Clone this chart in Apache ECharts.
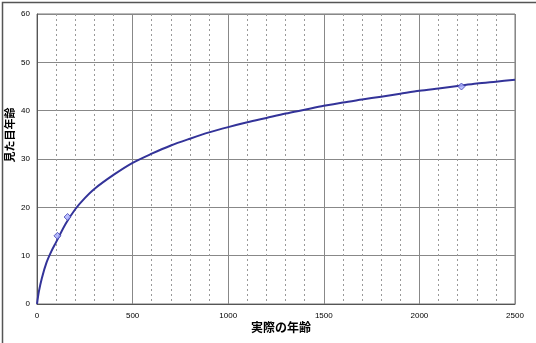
<!DOCTYPE html>
<html>
<head>
<meta charset="utf-8">
<script src="https://cdn.jsdelivr.net/npm/echarts@6/dist/echarts.min.js"></script>
<style>html,body{margin:0;padding:0;background:#fff}#c{width:536px;height:343px}</style>
</head>
<body>
<div id="c"></div>
<script>
const xTitle = '実際の年齢';
const yTitle = '見た目年齢';
const curveX = [0, 10, 25, 50, 75, 100, 150, 200, 250, 300, 400, 500, 600, 700, 800, 900, 1000, 1100, 1200, 1300, 1400, 1500, 1600, 1700, 1800, 1900, 2000, 2100, 2200, 2300, 2400, 2500];
const curveY = [0, 2.6, 5.3, 8.6, 10.9, 12.8, 16.6, 19.6, 21.9, 23.8, 26.7, 29.2, 31.1, 32.8, 34.2, 35.5, 36.6, 37.6, 38.5, 39.4, 40.2, 41.0, 41.7, 42.3, 42.9, 43.5, 44.1, 44.6, 45.1, 45.6, 46.0, 46.4];
const pointX = [107, 160, 2220];
const pointY = [14.1, 18.0, 45.0];

const chart = echarts.init(document.getElementById('c'), null, {renderer: 'canvas'});
const font = 'Liberation Sans, Arial, sans-serif';
chart.setOption({
  animation: false,
  backgroundColor: '#fff',
  grid: {left: 37, top: 14, right: 21, bottom: 39, containLabel: false,
         show: true, borderColor: '#777', borderWidth: 1},
  xAxis: {
    type: 'value', min: 0, max: 2500, interval: 500,
    axisLine: {show: true, onZero: false, lineStyle: {color: '#555', width: 1}},
    axisTick: {show: false},
    minorTick: {show: false, splitNumber: 5},
    axisLabel: {fontSize: 8, color: '#000', fontFamily: font, margin: 8, formatter: v => String(v)},
    splitLine: {show: true, lineStyle: {color: '#888', width: 1}},
    minorSplitLine: {show: true, lineStyle: {color: '#999', width: 1, type: [2, 3]}}
  },
  yAxis: {
    type: 'value', min: 0, max: 60, interval: 10,
    axisLine: {show: true, lineStyle: {color: '#555', width: 1}},
    axisTick: {show: false},
    axisLabel: {fontSize: 8, color: '#000', fontFamily: font, margin: 7, formatter: v => String(v)},
    splitLine: {show: true, lineStyle: {color: '#888', width: 1}}
  },
  graphic: [
    {type: 'rect', left: 0, top: 0, silent: true, z: 100,
     shape: {x: 0.5, y: 0.5, width: 535, height: 342},
     style: {fill: 'none', stroke: '#555', lineWidth: 1.5}},
    {type: 'text', x: 281, y: 327, silent: true,
     style: {text: xTitle, font: 'bold 12px "Noto Sans CJK JP", sans-serif', fill: '#000', textAlign: 'center', textVerticalAlign: 'middle'}},
    {type: 'text', x: 10, y: 135, rotation: Math.PI / 2, silent: true,
     style: {text: yTitle, font: 'bold 11px "Noto Sans CJK JP", sans-serif', fill: '#000', textAlign: 'center', textVerticalAlign: 'middle'}}
  ],
  series: [
    {type: 'line', smooth: 0.3, showSymbol: false, symbol: 'none',
     data: curveX.map((x, i) => [x, curveY[i]]),
     lineStyle: {color: '#333399', width: 2}, z: 3},
    {type: 'scatter', symbol: 'diamond', symbolSize: 7,
     data: pointX.map((x, i) => [x, pointY[i]]),
     itemStyle: {color: '#aab0ff', borderColor: '#4040b0', borderWidth: 1}, z: 4}
  ]
});
</script>
</body>
</html>
